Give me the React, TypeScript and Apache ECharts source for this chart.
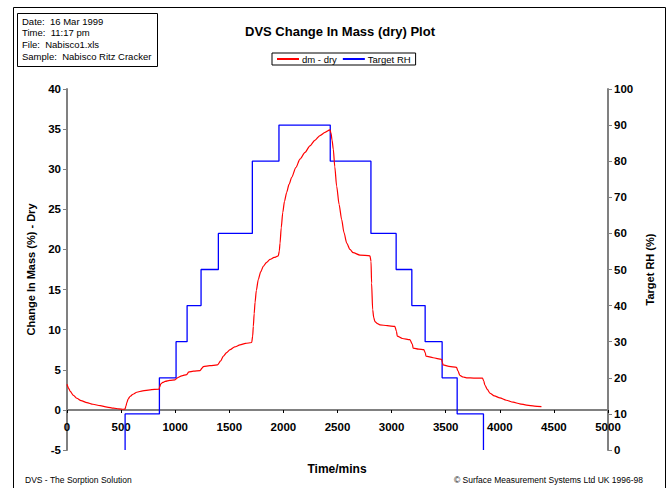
import React, { useEffect, useRef } from "react";
import * as echarts from "echarts";

// Change in mass (dm - dry, %) vs time (mins)
const massTimes = [
  0, 15, 30, 60, 91, 130, 184, 240, 307, 370, 430, 480, 522, 537,
  545, 553, 565, 584, 610, 645, 700, 768, 851,
  857, 867, 885, 907, 950, 999,
  1012, 1020, 1060, 1107,
  1115, 1122, 1170, 1230,
  1248, 1260, 1320, 1390,
  1420, 1445, 1475, 1507, 1550, 1599, 1650, 1707,
  1716, 1722, 1730, 1738, 1750, 1768, 1790, 1814, 1845, 1876, 1915, 1953,
  1962, 1969, 1980, 1994, 2010, 2030, 2052, 2077, 2115, 2153, 2200, 2245, 2290, 2338, 2385, 2430,
  2440, 2450, 2461, 2475, 2492, 2515, 2538, 2560, 2585, 2615, 2645, 2707, 2800,
  2810, 2815, 2825, 2835, 2846, 2870, 2892, 2960, 3030,
  3045, 3052, 3100, 3169,
  3192, 3199, 3250, 3298,
  3312, 3317, 3384, 3462,
  3470, 3476, 3530, 3600,
  3612, 3631, 3660, 3693, 3760, 3840,
  3852, 3862, 3885, 3908, 3950, 4000, 4060, 4123, 4185, 4247, 4320, 4385,
];
const massValues = [
  3.2, 2.7, 2.3, 1.8, 1.45, 1.15, 0.9, 0.7, 0.52, 0.35, 0.22, 0.13, 0.08, 0.1,
  0.5, 0.9, 1.35, 1.7, 1.95, 2.2, 2.38, 2.5, 2.6,
  2.9, 3.25, 3.42, 3.55, 3.67, 3.75,
  3.9, 4.0, 4.25, 4.4,
  4.55, 4.7, 4.82, 4.9,
  5.2, 5.4, 5.52, 5.6,
  6.1, 6.7, 7.15, 7.5, 7.85, 8.1, 8.28, 8.4,
  9.2, 10.4, 12.0, 13.4, 14.9, 16.25, 17.2, 17.9, 18.4, 18.75, 19.0, 19.2,
  19.8, 20.8, 22.7, 24.6, 26.0, 27.1, 28.1, 29.0, 30.2, 31.25, 32.1, 32.9, 33.6, 34.2, 34.6, 34.9,
  34.5, 33.6, 32.5, 30.3, 27.9, 25.6, 23.75, 22.1, 20.8, 20.0, 19.6, 19.3, 19.2,
  18.5, 15.8, 12.5, 11.5, 11.0, 10.75, 10.6, 10.5, 10.4,
  9.8, 9.2, 8.9, 8.75,
  8.2, 7.7, 7.58, 7.5,
  7.1, 6.7, 6.5, 6.3,
  5.9, 5.6, 5.42, 5.3,
  4.9, 4.3, 4.1, 4.0, 3.97, 3.95,
  3.6, 3.1, 2.55, 2.1, 1.75, 1.5, 1.2, 0.96, 0.76, 0.6, 0.48, 0.4,
];

// Target RH steps: time at which RH changes, and the level after the change
const rhStartTime = 537;
const rhStartLevel = 0;
const rhStepTimes = [537, 854, 1008, 1110, 1239, 1399, 1713, 1959, 2433, 2809, 3042, 3187, 3310, 3467, 3606, 3849];
const rhLevels = [10, 20, 30, 40, 50, 60, 80, 90, 80, 60, 50, 40, 30, 20, 10, 0];

const headerLines = [
  "Date:  16 Mar 1999",
  "Time:  11:17 pm",
  "File:  Nabisco1.xls",
  "Sample:  Nabisco Ritz Cracker",
];

const FONT = "'Liberation Sans', Arial, sans-serif";

export default function App() {
  const ref = useRef<HTMLDivElement>(null);
  useEffect(() => {
    if (!ref.current) return;
    const chart = echarts.init(ref.current, undefined, { renderer: "svg" });

    const massData = massTimes.map((t, i) => [t, massValues[i]]);
    const rhData: number[][] = [[rhStartTime, rhStartLevel]];
    let prev = rhStartLevel;
    rhStepTimes.forEach((t, i) => {
      rhData.push([t, prev]);
      rhData.push([t, rhLevels[i]]);
      prev = rhLevels[i];
    });

    const axisColor = "#808080";
    const labelStyle = { color: "#000", fontFamily: FONT, fontWeight: "bold" as const, fontSize: 11.5 };
    const plain = (v: number) => String(v);

    chart.setOption({
      animation: false,
      backgroundColor: "#fff",
      textStyle: { fontFamily: FONT },
      grid: { left: 67, right: 61, top: 89, bottom: 38, containLabel: false },
      legend: {
        left: 272,
        top: 53,
        orient: "horizontal",
        borderColor: "#000",
        borderWidth: 1,
        padding: [1, 5, 1, 5],
        itemGap: 6,
        itemWidth: 22,
        itemHeight: 2,
        icon: "rect",
        textStyle: { fontFamily: FONT, fontSize: 9.5, color: "#000", padding: [0, 0, 0, -2] },
        data: [
          { name: "dm - dry", icon: "rect" },
          { name: "Target RH", icon: "rect" },
        ],
      },
      xAxis: {
        type: "value",
        min: 0,
        max: 5000,
        interval: 500,
        position: "bottom",
        offset: -40,
        axisLine: { show: true, onZero: false, lineStyle: { color: axisColor, width: 2 } },
        axisTick: { show: true, length: 3, lineStyle: { color: "#000", width: 1 } },
        axisLabel: { ...labelStyle, margin: 11, formatter: plain },
        splitLine: { show: false },
      },
      yAxis: [
        {
          type: "value",
          min: -5,
          max: 40,
          interval: 5,
          position: "left",
          name: "Change In Mass (%) - Dry",
          nameLocation: "middle",
          nameRotate: 90,
          nameGap: 31,
          nameTextStyle: { color: "#000", fontFamily: FONT, fontWeight: "bold", fontSize: 11 },
          axisLine: { show: true, lineStyle: { color: axisColor, width: 2 } },
          axisTick: { show: true, length: 4, lineStyle: { color: axisColor, width: 1 } },
          axisLabel: { ...labelStyle, margin: 6, formatter: plain },
          splitLine: { show: false },
        },
        {
          type: "value",
          min: 0,
          max: 100,
          interval: 10,
          position: "right",
          name: "Target RH (%)",
          nameLocation: "middle",
          nameRotate: 90,
          nameGap: 36,
          nameTextStyle: { color: "#000", fontFamily: FONT, fontWeight: "bold", fontSize: 11 },
          axisLine: { show: true, lineStyle: { color: axisColor, width: 2 } },
          axisTick: { show: true, length: 4, lineStyle: { color: axisColor, width: 1 } },
          axisLabel: { ...labelStyle, margin: 6, formatter: plain },
          splitLine: { show: false },
        },
      ],
      series: [
        {
          name: "dm - dry",
          type: "line",
          yAxisIndex: 0,
          data: massData,
          showSymbol: false,
          symbol: "none",
          smooth: 0.25,
          smoothMonotone: "x",
          lineStyle: { color: "#ff0000", width: 1.2 },
          itemStyle: { color: "#ff0000" },
          z: 3,
        },
        {
          name: "Target RH",
          type: "line",
          yAxisIndex: 1,
          data: rhData,
          showSymbol: false,
          symbol: "none",
          lineStyle: { color: "#0000ff", width: 1.3 },
          itemStyle: { color: "#0000ff" },
          z: 2,
        },
      ],
      graphic: [
        {
          type: "rect",
          shape: { x: 13.5, y: 7.5, width: 652, height: 500 },
          style: { fill: "none", stroke: "#000", lineWidth: 1 },
          silent: true,
        },
        {
          type: "rect",
          shape: { x: 17.5, y: 13.5, width: 140, height: 53 },
          style: { fill: "#fff", stroke: "#000", lineWidth: 1 },
          silent: true,
        },
        ...headerLines.map((line, i) => ({
          type: "text",
          x: 22,
          y: 21 + i * 11.7,
          style: { text: line, fontFamily: FONT, fontSize: 9.5, fill: "#000", verticalAlign: "middle" },
          silent: true,
        })),
        {
          type: "text",
          x: 340,
          y: 31,
          style: {
            text: "DVS Change In Mass (dry) Plot",
            fontFamily: FONT,
            fontSize: 13,
            fontWeight: "bold",
            fill: "#000",
            align: "center",
            verticalAlign: "middle",
          },
        },
        {
          type: "text",
          x: 337,
          y: 469,
          style: {
            text: "Time/mins",
            fontFamily: FONT,
            fontSize: 12,
            fontWeight: "bold",
            fill: "#000",
            align: "center",
            verticalAlign: "middle",
          },
        },
        {
          type: "text",
          x: 25,
          y: 480,
          style: { text: "DVS - The Sorption Solution", fontFamily: FONT, fontSize: 8.5, fill: "#000", verticalAlign: "middle" },
        },
        {
          type: "text",
          x: 643,
          y: 480,
          style: {
            text: "© Surface Measurement Systems Ltd UK 1996-98",
            fontFamily: FONT,
            fontSize: 8.5,
            fill: "#000",
            align: "right",
            verticalAlign: "middle",
          },
        },
      ],
    });
    return () => chart.dispose();
  }, []);

  return (
    <div
      ref={ref}
      style={{ position: "absolute", left: 0, top: 0, width: 669, height: 488, background: "#fff" }}
    />
  );
}
